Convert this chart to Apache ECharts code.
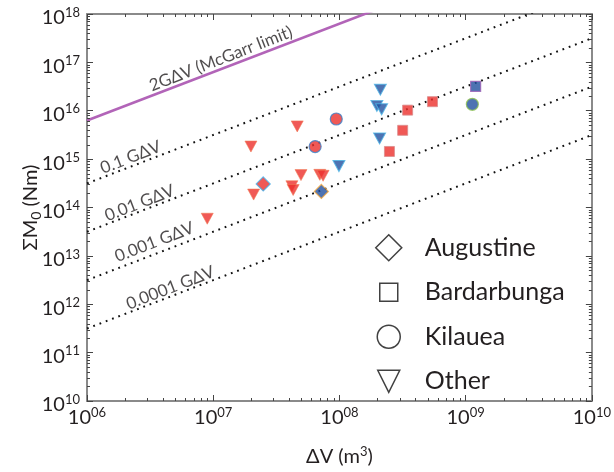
<!DOCTYPE html>
<html>
<head>
<meta charset="utf-8">
<script src="https://cdn.jsdelivr.net/npm/echarts@6/dist/echarts.min.js"></script>
<style>html,body{margin:0;padding:0;background:#fff}#c{width:614px;height:472px}</style>
</head>
<body>
<div id="c"></div>
<script>
// ---- data ----
var augustineRedV = [2.49e7];          var augustineRedM = [3.07e14];
var augustineBlueV = [7.19e7];         var augustineBlueM = [2.15e14];
var bardarbungaRedV = [3.47e8, 5.46e8, 3.17e8, 2.49e8];
var bardarbungaRedM = [1.03e16, 1.54e16, 3.94e15, 1.44e15];
var bardarbungaBlueV = [1.20e9];       var bardarbungaBlueM = [3.18e16];
var kilaueaRedV = [9.44e7, 6.42e7];    var kilaueaRedM = [6.76e15, 1.82e15];
var kilaueaBlueV = [1.13e9];           var kilaueaBlueM = [1.36e16];
var otherRedV = [8.97e6, 1.99e7, 2.09e7, 4.63e7, 4.96e7, 4.2e7, 4.3e7, 6.99e7, 7.42e7];
var otherRedM = [5.86e13, 1.82e15, 1.85e14, 4.75e15, 4.67e14, 2.75e14, 2.3e14, 4.73e14, 4.52e14];
var otherBlueV = [9.91e7, 2.11e8, 1.98e8, 2.16e8, 2.08e8];
var otherBlueM = [7.18e14, 2.72e16, 1.26e16, 1.07e16, 2.67e15];

var shearModulus = 3.15e9;
var lineFactors = [2, 0.1, 0.01, 0.001, 0.0001];
var lineLabels = ['2GΔV (McGarr limit)', '0.1 GΔV', '0.01 GΔV', '0.001 GΔV', '0.0001 GΔV'];
var lineLabelV = [1.15e7, 2.22e6, 2.61e6, 3.42e6, 4.57e6];
var lineLabelM = [1.18e17, 1.09e15, 1.23e14, 1.93e13, 2.18e12];

var legendNames = ['Augustine', 'Bardarbunga', 'Kilauea', 'Other'];
var xTickExps = [6, 7, 8, 9, 10];
var yTickExps = [10, 11, 12, 13, 14, 15, 16, 17, 18];
var minorMultipliers = [2, 3, 4, 5, 6, 7, 8, 9];
var xMin = 1e6, xMax = 1e10, yMin = 1e10, yMax = 1e18;

// ---- styling ----
var FONT = 'Lato, "Noto Sans", "DejaVu Sans", sans-serif';
var RED = '#EC302C', BLUE = '#22509F';
var AXIS = '#8a8a8a', TICK = '#444';

function pts(vs, ms, style) {
  return vs.map(function (v, i) { return { value: [v, ms[i]], itemStyle: style }; });
}

var minorX = [], minorY = [];
xTickExps.slice(0, -1).forEach(function (e) {
  minorMultipliers.forEach(function (m) { minorX.push([m * Math.pow(10, e), 1e14]); });
});
yTickExps.slice(0, -1).forEach(function (e) {
  minorMultipliers.forEach(function (m) { minorY.push([1e8, m * Math.pow(10, e)]); });
});

function tickLine(x1, y1, x2, y2) {
  return { type: 'line', shape: { x1: x1, y1: y1, x2: x2, y2: y2 }, style: { stroke: TICK, lineWidth: 1 } };
}

var refLines = lineFactors.map(function (f, i) {
  var k = f * shearModulus;
  return {
    type: 'line', name: 'ref' + i, silent: true, symbol: 'none', clip: true, z: 2,
    data: [[xMin, k * xMin], [xMax, k * xMax]],
    lineStyle: i === 0 ? { color: '#B264B8', width: 2.6 } :
      { color: '#111', width: 2, type: [1.8, 4.9], cap: 'butt' }
  };
});

var tri = 'path://M0,0L12,0L6,11Z';
var mkScatter = function (name, symbol, size, data) {
  return { type: 'scatter', name: name, symbol: symbol, symbolSize: size, data: data, z: 5, silent: true };
};
var legendStyle = { color: '#fff', borderColor: '#111', borderWidth: 1.5 };

var chart = echarts.init(document.getElementById('c'), null, { renderer: 'canvas' });
chart.setOption({
  animation: false,
  backgroundColor: '#fff',
  textStyle: { fontFamily: FONT },
  grid: { left: 87, right: 18, top: 14, bottom: 61 },
  legend: {
    orient: 'vertical', left: 370, top: 229, itemWidth: 26, itemHeight: 26, itemGap: 17,
    selectedMode: false,
    textStyle: { fontFamily: FONT, fontSize: 25, color: '#231f20', padding: [0, 0, 0, 18] },
    data: [
      { name: legendNames[0], icon: 'path://M13,0L26,13L13,26L0,13Z', itemStyle: legendStyle },
      { name: legendNames[1], icon: 'path://M0,0M26,26M4,4L22,4L22,22L4,22Z', itemStyle: legendStyle },
      { name: legendNames[2], icon: 'path://M0,0M26,26M1.5,13A11.5,11.5,0,1,1,24.5,13A11.5,11.5,0,1,1,1.5,13Z', itemStyle: legendStyle },
      { name: legendNames[3], icon: 'path://M0,0M26,26M2,2L24,2L13,24Z', itemStyle: legendStyle }
    ]
  },
  xAxis: [{
    type: 'log', logBase: 10, min: xMin, max: xMax, position: 'bottom',
    name: '{a|ΔV (m}{s|3}{a|)}', nameLocation: 'middle', nameGap: 44, nameMoveOverlap: false,
    nameTextStyle: { rich: { a: { fontSize: 20, fontFamily: FONT, color: '#231f20', lineHeight: 24 },
                             s: { fontSize: 13, fontFamily: FONT, color: '#231f20', lineHeight: 12, verticalAlign: 'top' } } },
    axisLine: { show: true, onZero: false, lineStyle: { color: AXIS, width: 2 } },
    axisTick: { show: true, inside: true, length: 6, lineStyle: { color: TICK, width: 1 } },
    splitLine: { show: false },
    axisLabel: {
      margin: 5, showMinLabel: true, showMaxLabel: true,
      formatter: function (v) { var e = Math.round(Math.log10(v)); return '{b|10}{s|' + (e < 10 ? '0' + e : e) + '}'; },
      rich: { b: { fontSize: 20, fontFamily: FONT, color: '#231f20', lineHeight: 24 },
              s: { fontSize: 13, fontFamily: FONT, color: '#231f20', lineHeight: 12, verticalAlign: 'top' } }
    }
  }, {
    type: 'log', logBase: 10, min: xMin, max: xMax, position: 'top',
    axisLine: { show: true, onZero: false, lineStyle: { color: AXIS, width: 2 } },
    axisTick: { show: true, inside: true, length: 6, lineStyle: { color: TICK, width: 1 } },
    axisLabel: { show: false }, splitLine: { show: false }
  }],
  yAxis: [{
    type: 'log', logBase: 10, min: yMin, max: yMax, position: 'left',
    name: '{a|ΣM}{s|0}{a| (Nm)}', nameLocation: 'middle', nameGap: 44, nameMoveOverlap: false,
    nameTextStyle: { rich: { a: { fontSize: 20, fontFamily: FONT, color: '#231f20', lineHeight: 24 },
                             s: { fontSize: 14, fontFamily: FONT, color: '#231f20', lineHeight: 12, verticalAlign: 'bottom' } } },
    axisLine: { show: true, onZero: false, lineStyle: { color: AXIS, width: 2 } },
    axisTick: { show: true, inside: true, length: 6, lineStyle: { color: TICK, width: 1 } },
    splitLine: { show: false },
    axisLabel: {
      margin: 7, showMinLabel: true, showMaxLabel: true, padding: [8, 0, 0, 0],
      formatter: function (v) { var e = Math.round(Math.log10(v)); return '{b|10}{s|' + e + '}'; },
      rich: { b: { fontSize: 20, fontFamily: FONT, color: '#231f20', lineHeight: 24 },
              s: { fontSize: 13, fontFamily: FONT, color: '#231f20', lineHeight: 10, verticalAlign: 'top' } }
    }
  }, {
    type: 'log', logBase: 10, min: yMin, max: yMax, position: 'right',
    axisLine: { show: true, onZero: false, lineStyle: { color: AXIS, width: 2 } },
    axisTick: { show: true, inside: true, length: 6, lineStyle: { color: TICK, width: 1 } },
    axisLabel: { show: false }, splitLine: { show: false }
  }],
  series: refLines.concat([
    {
      type: 'scatter', name: 'lineLabels', silent: true, symbolSize: 0, z: 4,
      data: lineLabels.map(function (t, i) { return { name: t, value: [lineLabelV[i], lineLabelM[i]] }; }),
      label: { show: true, position: 'inside', rotate: 21.3, formatter: function (p) { return p.name; },
               fontFamily: FONT, fontSize: 17, color: '#231f20' }
    },
    {
      type: 'custom', name: 'minorX', silent: true, clip: false, z: 3, data: minorX,
      renderItem: function (params, api) {
        var cs = params.coordSys; var p = api.coord([api.value(0), 1e14]);
        var x = Math.round(p[0]) + 0.5;
        return { type: 'group', children: [
          tickLine(x, cs.y + cs.height, x, cs.y + cs.height - 3),
          tickLine(x, cs.y, x, cs.y + 3)] };
      }
    },
    {
      type: 'custom', name: 'minorY', silent: true, clip: false, z: 3, data: minorY,
      renderItem: function (params, api) {
        var cs = params.coordSys; var p = api.coord([1e8, api.value(1)]);
        var y = Math.round(p[1]) + 0.5;
        return { type: 'group', children: [
          tickLine(cs.x, y, cs.x + 3, y),
          tickLine(cs.x + cs.width, y, cs.x + cs.width - 3, y)] };
      }
    },
    mkScatter('Other', tri, [12, 11], pts(otherRedV, otherRedM, { color: RED, borderColor: '#F07A50', borderWidth: 0.7 })
      .concat(pts(otherBlueV, otherBlueM, { color: BLUE, borderColor: '#4BB4E6', borderWidth: 1 }))),
    mkScatter('Augustine', 'diamond', 14, pts(augustineRedV, augustineRedM, { color: RED, borderColor: '#45AEE8', borderWidth: 1.2 })
      .concat(pts(augustineBlueV, augustineBlueM, { color: BLUE, borderColor: '#F3A53A', borderWidth: 1.2 }))),
    mkScatter('Kilauea', 'circle', 12, pts(kilaueaRedV, kilaueaRedM, { color: RED, borderColor: '#3A80C8', borderWidth: 1.2 })
      .concat(pts(kilaueaBlueV, kilaueaBlueM, { color: BLUE, borderColor: '#8CC152', borderWidth: 1.2 }))),
    mkScatter('Bardarbunga', 'rect', 10, pts(bardarbungaRedV, bardarbungaRedM, { color: RED, borderColor: '#D98C8C', borderWidth: 1 })
      .concat(pts(bardarbungaBlueV, bardarbungaBlueM, { color: BLUE, borderColor: '#9B5FB5', borderWidth: 1.2 })))
  ])
});
</script>
</body>
</html>
